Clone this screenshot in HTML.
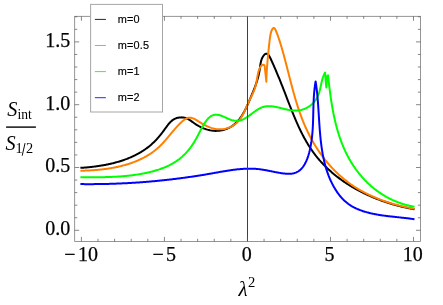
<!DOCTYPE html>
<html><head><meta charset="utf-8"><title>plot</title>
<style>
html,body{margin:0;padding:0;background:#fff;}
svg{display:block;}
text{font-family:"Liberation Serif",serif;}
svg{will-change:transform;}
text.lg{font-family:"Liberation Sans",sans-serif;font-size:10.9px;letter-spacing:0.16px;stroke:#000;stroke-width:0.15px;}
</style></head>
<body>
<svg width="443" height="305" viewBox="0 0 443 305">
<rect x="0" y="0" width="443" height="305" fill="#fff"/>
<g>
<path d="M81.40 167.80L82.18 167.75L82.96 167.70L83.75 167.64L84.53 167.58L85.32 167.52L86.10 167.45L86.89 167.38L87.68 167.31L88.47 167.24L89.27 167.16L90.06 167.08L90.85 167.00L91.65 166.91L92.44 166.82L93.24 166.73L94.04 166.63L94.83 166.53L95.63 166.43L96.43 166.32L97.22 166.21L98.02 166.10L98.82 165.98L99.62 165.86L100.42 165.73L101.21 165.60L102.01 165.47L102.81 165.33L103.61 165.19L104.40 165.05L105.20 164.90L105.99 164.74L106.79 164.58L107.58 164.42L108.38 164.26L109.17 164.09L109.96 163.91L110.75 163.73L111.54 163.55L112.32 163.36L113.11 163.16L113.90 162.96L114.68 162.76L115.46 162.55L116.24 162.34L117.02 162.12L117.80 161.90L118.57 161.67L119.34 161.44L120.11 161.20L120.88 160.96L121.65 160.71L122.41 160.46L123.18 160.20L123.94 159.94L124.69 159.67L125.45 159.39L126.20 159.11L126.95 158.83L127.70 158.53L128.44 158.24L129.18 157.93L129.92 157.63L130.65 157.31L131.38 156.99L132.11 156.66L132.84 156.33L133.56 155.99L134.28 155.65L134.99 155.30L135.70 154.94L136.41 154.58L137.11 154.21L137.81 153.83L138.51 153.45L139.20 153.06L139.88 152.67L140.57 152.27L141.25 151.86L141.92 151.45L142.59 151.02L143.26 150.60L143.92 150.16L144.58 149.72L145.23 149.27L145.87 148.81L146.52 148.35L147.15 147.88L147.79 147.40L148.41 146.92L149.03 146.43L149.65 145.93L150.26 145.43L150.87 144.91L151.47 144.39L152.06 143.86L152.65 143.33L153.24 142.78L153.81 142.23L154.39 141.67L154.95 141.11L155.51 140.53L156.07 139.95L156.61 139.36L157.16 138.77L157.69 138.17L158.23 137.56L158.76 136.94L159.28 136.32L159.80 135.70L160.31 135.07L160.82 134.43L161.33 133.79L161.83 133.15L162.33 132.50L162.82 131.85L163.31 131.19L163.80 130.53L164.29 129.87L164.77 129.21L165.25 128.54L165.73 127.87L166.20 127.21L166.69 126.54L167.17 125.89L167.66 125.24L168.16 124.60L168.66 123.98L169.18 123.37L169.71 122.78L170.25 122.21L170.80 121.66L171.38 121.13L171.97 120.63L172.59 120.16L173.22 119.72L173.88 119.31L174.57 118.94L175.28 118.60L176.02 118.31L176.78 118.05L177.55 117.84L178.35 117.66L179.15 117.53L179.96 117.43L180.78 117.38L181.59 117.37L182.40 117.41L183.20 117.49L183.98 117.61L184.75 117.78L185.50 117.99L186.23 118.25L186.95 118.54L187.65 118.87L188.33 119.23L189.00 119.62L189.67 120.03L190.33 120.46L190.98 120.90L191.63 121.36L192.28 121.83L192.93 122.30L193.58 122.77L194.24 123.24L194.91 123.70L195.59 124.15L196.27 124.60L196.97 125.03L197.67 125.45L198.38 125.85L199.10 126.25L199.82 126.63L200.55 127.00L201.29 127.36L202.04 127.70L202.79 128.03L203.54 128.34L204.30 128.63L205.07 128.91L205.84 129.18L206.61 129.42L207.39 129.65L208.17 129.86L208.96 130.05L209.75 130.23L210.54 130.38L211.33 130.52L212.12 130.63L212.92 130.72L213.71 130.80L214.51 130.85L215.30 130.88L216.10 130.88L216.89 130.87L217.69 130.83L218.48 130.77L219.27 130.69L220.06 130.59L220.84 130.47L221.62 130.32L222.39 130.16L223.16 129.97L223.92 129.77L224.68 129.54L225.43 129.30L226.17 129.04L226.91 128.75L227.64 128.45L228.35 128.13L229.06 127.78L229.76 127.42L230.44 127.05L231.12 126.65L231.78 126.23L232.44 125.80L233.08 125.35L233.70 124.88L234.31 124.40L234.91 123.89L235.50 123.37L236.07 122.84L236.63 122.29L237.17 121.73L237.71 121.15L238.23 120.56L238.74 119.95L239.25 119.33L239.74 118.70L240.21 118.06L240.68 117.41L241.14 116.75L241.59 116.08L242.03 115.39L242.47 114.70L242.89 114.01L243.30 113.30L243.71 112.59L244.11 111.87L244.50 111.14L244.89 110.41L245.26 109.67L245.63 108.93L246.00 108.19L246.36 107.44L246.71 106.69L247.06 105.93L247.40 105.18L247.74 104.42L248.08 103.66L248.41 102.90L248.73 102.14L249.06 101.39L249.38 100.63L249.69 99.88L250.01 99.13L250.32 98.38L250.63 97.63L250.94 96.89L251.24 96.16L251.55 95.42L251.85 94.69L252.15 93.97L252.45 93.24L252.75 92.52L253.04 91.80L253.33 91.08L253.62 90.37L253.91 89.65L254.19 88.93L254.47 88.22L254.74 87.50L255.01 86.78L255.28 86.07L255.54 85.35L255.80 84.63L256.05 83.90L256.30 83.18L256.54 82.45L256.78 81.72L257.01 80.98L257.24 80.24L257.46 79.50L257.68 78.75L257.89 78.00L258.09 77.24L258.29 76.47L258.48 75.70L258.67 74.93L258.85 74.14L259.02 73.35L259.18 72.55L259.34 71.75L259.49 70.93L259.63 70.11L259.76 69.28L259.89 68.44L260.01 67.59L260.12 66.73L260.23 65.86L260.34 64.98L260.47 64.11L260.61 63.23L260.78 62.35L260.98 61.47L261.21 60.60L261.48 59.73L261.80 58.87L262.18 58.03L262.59 57.22L263.04 56.45L263.51 55.75L264.01 55.12L264.52 54.58L265.04 54.14L265.57 53.83L266.08 53.66L266.59 53.63L267.08 53.76L267.56 54.03L268.02 54.42L268.47 54.91L268.91 55.51L269.34 56.18L269.75 56.92L270.16 57.71L270.56 58.53L270.96 59.38L271.35 60.23L271.73 61.08L272.11 61.92L272.48 62.76L272.85 63.58L273.21 64.40L273.57 65.21L273.93 66.02L274.28 66.82L274.62 67.62L274.97 68.40L275.30 69.19L275.64 69.97L275.97 70.74L276.30 71.51L276.62 72.27L276.94 73.03L277.26 73.78L277.58 74.53L277.89 75.28L278.20 76.03L278.50 76.77L278.81 77.50L279.11 78.24L279.41 78.97L279.71 79.70L280.00 80.43L280.29 81.15L280.59 81.88L280.88 82.60L281.16 83.32L281.45 84.04L281.74 84.76L282.02 85.48L282.31 86.20L282.59 86.92L282.87 87.64L283.15 88.36L283.43 89.08L283.71 89.80L283.99 90.52L284.27 91.24L284.55 91.97L284.83 92.69L285.11 93.42L285.40 94.15L285.68 94.88L285.96 95.62L286.24 96.35L286.52 97.09L286.80 97.82L287.09 98.56L287.37 99.30L287.65 100.04L287.94 100.78L288.22 101.52L288.51 102.27L288.80 103.01L289.09 103.75L289.37 104.50L289.66 105.24L289.95 105.99L290.25 106.74L290.54 107.48L290.83 108.23L291.13 108.98L291.43 109.73L291.72 110.48L292.02 111.22L292.33 111.97L292.63 112.72L292.93 113.47L293.24 114.22L293.54 114.97L293.85 115.71L294.16 116.46L294.48 117.21L294.79 117.95L295.11 118.70L295.43 119.45L295.75 120.19L296.07 120.93L296.39 121.68L296.72 122.42L297.05 123.16L297.38 123.90L297.71 124.64L298.05 125.38L298.38 126.12L298.72 126.85L299.07 127.59L299.41 128.32L299.76 129.05L300.11 129.78L300.47 130.51L300.82 131.24L301.18 131.96L301.54 132.69L301.91 133.41L302.28 134.13L302.65 134.85L303.02 135.57L303.40 136.28L303.78 136.99L304.16 137.70L304.55 138.41L304.94 139.11L305.33 139.82L305.73 140.52L306.13 141.21L306.53 141.91L306.94 142.60L307.35 143.29L307.77 143.98L308.18 144.66L308.61 145.35L309.03 146.02L309.46 146.70L309.90 147.37L310.34 148.04L310.78 148.71L311.22 149.37L311.67 150.03L312.13 150.68L312.59 151.34L313.05 151.99L313.52 152.63L313.99 153.27L314.47 153.91L314.95 154.54L315.43 155.18L315.92 155.80L316.41 156.43L316.91 157.04L317.41 157.66L317.92 158.27L318.43 158.88L318.95 159.49L319.46 160.09L319.99 160.68L320.51 161.28L321.04 161.87L321.58 162.45L322.12 163.04L322.66 163.62L323.21 164.19L323.76 164.76L324.31 165.33L324.87 165.90L325.43 166.46L326.00 167.01L326.57 167.57L327.14 168.12L327.72 168.66L328.30 169.21L328.88 169.75L329.47 170.28L330.06 170.81L330.65 171.34L331.25 171.87L331.85 172.39L332.45 172.90L333.06 173.42L333.67 173.93L334.29 174.44L334.90 174.94L335.52 175.44L336.15 175.94L336.77 176.43L337.40 176.92L338.04 177.40L338.67 177.88L339.31 178.36L339.95 178.84L340.60 179.31L341.25 179.78L341.90 180.24L342.55 180.70L343.21 181.16L343.87 181.61L344.53 182.06L345.19 182.51L345.86 182.95L346.53 183.39L347.20 183.83L347.88 184.26L348.55 184.69L349.23 185.12L349.92 185.54L350.60 185.96L351.29 186.37L351.98 186.78L352.67 187.19L353.36 187.60L354.06 188.00L354.76 188.40L355.46 188.79L356.16 189.18L356.87 189.57L357.58 189.95L358.29 190.33L359.00 190.71L359.71 191.08L360.43 191.46L361.15 191.82L361.86 192.19L362.59 192.55L363.31 192.90L364.03 193.26L364.76 193.61L365.49 193.95L366.22 194.30L366.95 194.64L367.69 194.97L368.42 195.30L369.16 195.63L369.90 195.96L370.64 196.28L371.38 196.60L372.12 196.92L372.87 197.23L373.61 197.54L374.36 197.85L375.11 198.15L375.86 198.45L376.61 198.74L377.36 199.04L378.11 199.33L378.87 199.61L379.62 199.90L380.38 200.18L381.14 200.45L381.90 200.72L382.66 200.99L383.42 201.26L384.18 201.52L384.94 201.78L385.71 202.04L386.47 202.29L387.24 202.54L388.00 202.79L388.77 203.03L389.54 203.27L390.30 203.51L391.07 203.74L391.84 203.97L392.61 204.20L393.38 204.42L394.15 204.64L394.92 204.86L395.70 205.07L396.47 205.28L397.24 205.49L398.01 205.69L398.79 205.89L399.56 206.09L400.34 206.29L401.11 206.48L401.88 206.66L402.66 206.85L403.43 207.03L404.21 207.21L404.98 207.38L405.76 207.56L406.53 207.72L407.31 207.89L408.08 208.05L408.86 208.21L409.63 208.37L410.41 208.52L411.18 208.67L411.95 208.82L412.73 208.96L413.50 209.10" fill="none" stroke="#000" stroke-width="2" stroke-linejoin="round" stroke-linecap="square"/>
<path d="M81.40 170.70L82.17 170.69L82.95 170.67L83.73 170.65L84.51 170.63L85.29 170.61L86.07 170.58L86.86 170.55L87.64 170.52L88.43 170.48L89.23 170.45L90.02 170.41L90.81 170.36L91.61 170.32L92.41 170.27L93.20 170.21L94.00 170.16L94.81 170.10L95.61 170.03L96.41 169.97L97.21 169.90L98.02 169.83L98.82 169.75L99.63 169.67L100.44 169.59L101.24 169.50L102.05 169.41L102.86 169.31L103.67 169.22L104.47 169.11L105.28 169.01L106.09 168.90L106.90 168.78L107.71 168.66L108.51 168.54L109.32 168.42L110.13 168.28L110.93 168.15L111.74 168.01L112.54 167.87L113.35 167.72L114.15 167.57L114.95 167.41L115.75 167.25L116.55 167.08L117.35 166.91L118.15 166.73L118.95 166.55L119.74 166.37L120.53 166.18L121.32 165.98L122.11 165.78L122.90 165.58L123.69 165.37L124.47 165.15L125.26 164.93L126.04 164.70L126.81 164.47L127.59 164.24L128.36 163.99L129.13 163.75L129.90 163.49L130.67 163.24L131.43 162.97L132.19 162.70L132.95 162.43L133.70 162.15L134.45 161.86L135.20 161.57L135.95 161.27L136.69 160.96L137.42 160.65L138.16 160.33L138.89 160.01L139.62 159.68L140.34 159.35L141.06 159.01L141.78 158.66L142.49 158.30L143.20 157.94L143.90 157.58L144.60 157.20L145.30 156.82L145.99 156.43L146.68 156.04L147.36 155.64L148.04 155.23L148.71 154.82L149.38 154.40L150.04 153.97L150.70 153.54L151.35 153.09L152.00 152.65L152.64 152.19L153.28 151.73L153.91 151.26L154.54 150.78L155.16 150.29L155.78 149.80L156.39 149.30L156.99 148.79L157.59 148.28L158.18 147.76L158.77 147.23L159.35 146.69L159.92 146.14L160.49 145.59L161.05 145.03L161.61 144.46L162.16 143.89L162.71 143.31L163.25 142.72L163.79 142.13L164.33 141.53L164.86 140.93L165.39 140.32L165.91 139.71L166.44 139.10L166.96 138.48L167.48 137.86L168.00 137.23L168.52 136.61L169.04 135.98L169.56 135.35L170.08 134.72L170.60 134.09L171.13 133.45L171.65 132.82L172.18 132.19L172.71 131.55L173.24 130.92L173.77 130.29L174.31 129.66L174.85 129.04L175.40 128.41L175.95 127.79L176.50 127.17L177.06 126.55L177.63 125.94L178.20 125.33L178.78 124.73L179.37 124.13L179.96 123.54L180.56 122.95L181.17 122.37L181.78 121.80L182.40 121.25L183.03 120.72L183.67 120.21L184.31 119.74L184.96 119.31L185.61 118.91L186.27 118.56L186.93 118.26L187.60 118.01L188.27 117.83L188.95 117.70L189.63 117.65L190.31 117.67L191.00 117.76L191.69 117.90L192.38 118.11L193.08 118.36L193.78 118.66L194.48 119.00L195.19 119.38L195.89 119.78L196.61 120.20L197.32 120.64L198.04 121.10L198.76 121.56L199.48 122.02L200.21 122.47L200.94 122.91L201.67 123.35L202.40 123.78L203.14 124.20L203.88 124.60L204.62 125.00L205.36 125.38L206.11 125.75L206.86 126.10L207.61 126.45L208.36 126.77L209.11 127.08L209.87 127.38L210.63 127.65L211.39 127.91L212.15 128.15L212.92 128.37L213.69 128.57L214.45 128.75L215.23 128.91L216.00 129.05L216.77 129.16L217.55 129.25L218.33 129.31L219.11 129.35L219.89 129.37L220.67 129.36L221.46 129.32L222.24 129.25L223.02 129.16L223.81 129.05L224.58 128.91L225.36 128.75L226.13 128.56L226.90 128.34L227.66 128.11L228.41 127.85L229.15 127.56L229.89 127.26L230.62 126.93L231.33 126.58L232.04 126.20L232.73 125.81L233.42 125.39L234.08 124.95L234.74 124.49L235.37 124.01L236.00 123.51L236.60 122.98L237.19 122.44L237.76 121.88L238.31 121.30L238.83 120.70L239.35 120.08L239.84 119.44L240.32 118.79L240.78 118.13L241.22 117.45L241.65 116.76L242.07 116.06L242.48 115.35L242.87 114.62L243.26 113.89L243.63 113.16L244.00 112.42L244.35 111.67L244.70 110.92L245.05 110.16L245.39 109.41L245.73 108.65L246.06 107.90L246.39 107.14L246.72 106.39L247.04 105.64L247.37 104.90L247.70 104.16L248.03 103.43L248.36 102.71L248.70 101.99L249.04 101.28L249.38 100.58L249.72 99.88L250.06 99.19L250.40 98.50L250.74 97.81L251.08 97.12L251.41 96.43L251.75 95.74L252.07 95.05L252.40 94.35L252.72 93.65L253.03 92.94L253.33 92.23L253.63 91.51L253.92 90.78L254.20 90.04L254.48 89.30L254.74 88.54L254.99 87.76L255.23 86.98L255.46 86.18L255.68 85.36L255.88 84.53L256.08 83.68L256.26 82.82L256.43 81.96L256.60 81.08L256.76 80.20L256.92 79.32L257.07 78.44L257.23 77.56L257.39 76.68L257.55 75.82L257.72 74.96L257.89 74.12L258.08 73.29L258.27 72.49L258.48 71.70L258.70 70.93L258.94 70.19L259.19 69.48L259.46 68.80L259.76 68.15L260.07 67.53L260.41 66.96L260.78 66.42L261.17 65.93L261.60 65.48L262.05 65.12L262.52 64.87L263.02 64.75L263.53 64.79L264.06 65.03L264.60 65.50L266.35 81.70L266.36 80.95L266.37 80.19L266.39 79.43L266.41 78.65L266.43 77.87L266.46 77.09L266.49 76.30L266.53 75.50L266.56 74.70L266.60 73.89L266.65 73.08L266.69 72.26L266.74 71.45L266.80 70.63L266.85 69.80L266.91 68.98L266.96 68.15L267.02 67.32L267.09 66.50L267.15 65.67L267.22 64.84L267.28 64.01L267.35 63.19L267.42 62.36L267.49 61.54L267.56 60.72L267.64 59.91L267.71 59.09L267.78 58.28L267.86 57.48L267.93 56.68L268.01 55.88L268.09 55.09L268.16 54.31L268.24 53.53L268.31 52.76L268.39 52.00L268.46 51.25L268.53 50.50L268.61 49.76L268.68 49.03L268.75 48.31L268.83 47.58L268.90 46.85L268.98 46.11L269.06 45.37L269.14 44.60L269.22 43.82L269.32 43.01L269.41 42.18L269.52 41.32L269.62 40.42L269.74 39.48L269.87 38.51L270.00 37.51L270.16 36.49L270.33 35.47L270.52 34.47L270.73 33.48L270.97 32.53L271.24 31.62L271.54 30.78L271.88 30.00L272.25 29.30L272.66 28.72L273.08 28.28L273.50 28.01L273.92 27.94L274.33 28.10L274.71 28.47L275.08 29.02L275.43 29.69L275.77 30.45L276.10 31.24L276.42 32.03L276.73 32.81L277.03 33.60L277.33 34.38L277.62 35.16L277.91 35.94L278.19 36.72L278.46 37.50L278.73 38.28L278.99 39.05L279.25 39.83L279.50 40.60L279.75 41.38L279.99 42.15L280.24 42.93L280.47 43.70L280.71 44.47L280.94 45.25L281.18 46.02L281.41 46.80L281.63 47.57L281.86 48.35L282.09 49.13L282.31 49.90L282.53 50.68L282.75 51.46L282.97 52.24L283.19 53.02L283.40 53.79L283.62 54.57L283.83 55.35L284.05 56.13L284.26 56.91L284.47 57.69L284.68 58.47L284.88 59.25L285.09 60.03L285.30 60.82L285.50 61.60L285.71 62.38L285.91 63.16L286.12 63.94L286.32 64.72L286.52 65.50L286.72 66.29L286.92 67.07L287.13 67.85L287.33 68.63L287.53 69.41L287.73 70.20L287.93 70.98L288.12 71.76L288.32 72.54L288.52 73.32L288.72 74.10L288.92 74.88L289.12 75.67L289.32 76.45L289.52 77.23L289.72 78.01L289.92 78.79L290.12 79.57L290.32 80.35L290.52 81.13L290.73 81.91L290.93 82.69L291.13 83.46L291.34 84.24L291.54 85.02L291.74 85.80L291.95 86.57L292.16 87.35L292.37 88.13L292.57 88.90L292.78 89.68L292.99 90.45L293.21 91.23L293.42 92.00L293.63 92.78L293.85 93.55L294.07 94.32L294.29 95.09L294.50 95.87L294.73 96.64L294.95 97.41L295.17 98.18L295.40 98.94L295.63 99.71L295.86 100.48L296.09 101.25L296.32 102.01L296.55 102.78L296.79 103.54L297.03 104.30L297.27 105.07L297.51 105.83L297.76 106.59L298.01 107.35L298.26 108.11L298.51 108.87L298.76 109.63L299.02 110.38L299.28 111.14L299.54 111.89L299.80 112.65L300.07 113.40L300.34 114.15L300.61 114.90L300.88 115.65L301.16 116.40L301.44 117.15L301.72 117.90L302.01 118.64L302.30 119.39L302.59 120.13L302.89 120.87L303.19 121.61L303.49 122.35L303.79 123.09L304.10 123.83L304.41 124.57L304.73 125.30L305.05 126.03L305.37 126.77L305.69 127.50L306.02 128.23L306.36 128.96L306.69 129.68L307.03 130.41L307.38 131.13L307.72 131.86L308.07 132.58L308.43 133.30L308.79 134.01L309.15 134.73L309.51 135.45L309.88 136.16L310.26 136.87L310.63 137.58L311.01 138.29L311.40 138.99L311.78 139.70L312.18 140.40L312.57 141.10L312.97 141.80L313.37 142.49L313.78 143.18L314.18 143.88L314.60 144.57L315.01 145.25L315.43 145.94L315.86 146.62L316.28 147.30L316.71 147.98L317.15 148.66L317.59 149.33L318.03 150.00L318.47 150.67L318.92 151.34L319.37 152.00L319.83 152.66L320.29 153.32L320.75 153.97L321.22 154.63L321.69 155.28L322.16 155.93L322.64 156.57L323.12 157.21L323.60 157.85L324.09 158.49L324.58 159.12L325.08 159.75L325.58 160.38L326.08 161.00L326.59 161.62L327.10 162.24L327.61 162.86L328.13 163.47L328.65 164.08L329.17 164.68L329.70 165.28L330.23 165.88L330.76 166.48L331.30 167.07L331.84 167.66L332.39 168.24L332.94 168.82L333.49 169.40L334.04 169.98L334.60 170.55L335.17 171.11L335.73 171.68L336.30 172.24L336.88 172.79L337.45 173.34L338.03 173.89L338.62 174.43L339.20 174.97L339.80 175.51L340.39 176.04L340.99 176.57L341.59 177.10L342.19 177.62L342.80 178.13L343.42 178.64L344.03 179.15L344.65 179.65L345.27 180.15L345.90 180.65L346.53 181.14L347.16 181.62L347.80 182.11L348.44 182.58L349.08 183.06L349.73 183.52L350.38 183.99L351.04 184.45L351.69 184.90L352.36 185.35L353.02 185.80L353.69 186.24L354.36 186.67L355.03 187.11L355.71 187.53L356.39 187.96L357.07 188.38L357.76 188.79L358.45 189.20L359.14 189.61L359.84 190.01L360.53 190.40L361.23 190.80L361.94 191.19L362.64 191.57L363.35 191.95L364.06 192.33L364.78 192.70L365.49 193.07L366.21 193.43L366.93 193.79L367.66 194.15L368.38 194.50L369.11 194.84L369.84 195.19L370.57 195.53L371.31 195.86L372.04 196.19L372.78 196.52L373.52 196.84L374.26 197.16L375.01 197.48L375.75 197.79L376.50 198.10L377.25 198.40L378.00 198.70L378.75 199.00L379.50 199.29L380.26 199.58L381.02 199.86L381.77 200.15L382.53 200.42L383.30 200.70L384.06 200.97L384.82 201.23L385.59 201.50L386.35 201.76L387.12 202.01L387.89 202.26L388.66 202.51L389.43 202.76L390.20 203.00L390.97 203.24L391.74 203.47L392.51 203.70L393.29 203.93L394.06 204.15L394.84 204.37L395.61 204.59L396.39 204.80L397.17 205.02L397.94 205.22L398.72 205.43L399.50 205.63L400.28 205.83L401.05 206.02L401.83 206.21L402.61 206.40L403.39 206.58L404.17 206.76L404.95 206.94L405.73 207.12L406.51 207.29L407.28 207.46L408.06 207.62L408.84 207.79L409.62 207.95L410.39 208.10L411.17 208.26L411.95 208.41L412.72 208.56L413.50 208.70" fill="none" stroke="#ff8000" stroke-width="2" stroke-linejoin="round" stroke-linecap="square"/>
<path d="M81.40 177.20L82.20 177.21L83.01 177.21L83.81 177.22L84.61 177.22L85.41 177.23L86.22 177.23L87.02 177.23L87.82 177.24L88.63 177.24L89.43 177.24L90.23 177.25L91.04 177.25L91.84 177.25L92.64 177.25L93.45 177.25L94.25 177.25L95.05 177.24L95.85 177.24L96.66 177.24L97.46 177.23L98.26 177.22L99.07 177.22L99.87 177.21L100.67 177.20L101.48 177.19L102.28 177.17L103.08 177.16L103.88 177.14L104.69 177.13L105.49 177.11L106.29 177.09L107.09 177.07L107.89 177.04L108.70 177.02L109.50 176.99L110.30 176.96L111.10 176.93L111.90 176.90L112.70 176.86L113.51 176.83L114.31 176.79L115.11 176.75L115.91 176.70L116.71 176.66L117.51 176.61L118.31 176.56L119.11 176.51L119.91 176.45L120.71 176.39L121.51 176.33L122.31 176.27L123.11 176.20L123.91 176.14L124.71 176.06L125.51 175.99L126.30 175.91L127.10 175.83L127.90 175.75L128.70 175.67L129.50 175.58L130.29 175.48L131.09 175.39L131.89 175.29L132.68 175.19L133.48 175.08L134.28 174.98L135.07 174.86L135.87 174.75L136.66 174.63L137.46 174.51L138.25 174.38L139.05 174.25L139.84 174.12L140.64 173.98L141.43 173.84L142.22 173.69L143.02 173.54L143.81 173.39L144.60 173.23L145.39 173.07L146.18 172.90L146.98 172.73L147.77 172.56L148.56 172.38L149.34 172.20L150.13 172.01L150.92 171.81L151.70 171.62L152.48 171.41L153.26 171.20L154.04 170.99L154.82 170.77L155.60 170.54L156.37 170.31L157.14 170.07L157.91 169.83L158.67 169.58L159.44 169.33L160.20 169.06L160.95 168.80L161.71 168.52L162.46 168.24L163.20 167.95L163.95 167.66L164.69 167.35L165.42 167.04L166.15 166.73L166.88 166.40L167.60 166.07L168.32 165.73L169.04 165.39L169.74 165.03L170.45 164.67L171.15 164.30L171.84 163.92L172.53 163.53L173.22 163.13L173.90 162.73L174.57 162.32L175.24 161.90L175.90 161.47L176.55 161.03L177.20 160.58L177.84 160.12L178.48 159.65L179.11 159.18L179.73 158.69L180.35 158.19L180.96 157.69L181.56 157.18L182.16 156.65L182.75 156.12L183.33 155.58L183.90 155.03L184.47 154.48L185.03 153.91L185.59 153.34L186.14 152.75L186.68 152.17L187.21 151.57L187.74 150.96L188.26 150.35L188.78 149.73L189.28 149.10L189.78 148.47L190.28 147.83L190.76 147.18L191.24 146.52L191.71 145.86L192.18 145.19L192.64 144.52L193.09 143.84L193.53 143.15L193.97 142.46L194.40 141.76L194.82 141.06L195.23 140.35L195.64 139.63L196.05 138.91L196.44 138.19L196.84 137.46L197.23 136.73L197.61 136.00L198.00 135.26L198.38 134.52L198.77 133.79L199.15 133.05L199.53 132.30L199.92 131.56L200.30 130.82L200.69 130.08L201.09 129.34L201.48 128.61L201.88 127.87L202.29 127.14L202.70 126.41L203.13 125.69L203.55 124.96L203.99 124.25L204.43 123.53L204.89 122.83L205.36 122.13L205.83 121.43L206.32 120.76L206.82 120.10L207.33 119.46L207.86 118.84L208.40 118.26L208.96 117.72L209.53 117.21L210.12 116.74L210.72 116.33L211.34 115.96L211.97 115.64L212.63 115.37L213.29 115.15L213.97 114.98L214.66 114.85L215.36 114.77L216.08 114.74L216.80 114.75L217.53 114.81L218.28 114.91L219.03 115.05L219.78 115.24L220.55 115.47L221.31 115.74L222.09 116.03L222.87 116.35L223.65 116.69L224.44 117.04L225.22 117.40L226.01 117.77L226.81 118.13L227.60 118.49L228.39 118.83L229.19 119.16L229.99 119.47L230.78 119.75L231.57 120.00L232.36 120.23L233.15 120.42L233.94 120.57L234.72 120.70L235.50 120.78L236.27 120.83L237.04 120.83L237.80 120.80L238.56 120.71L239.30 120.59L240.04 120.42L240.78 120.22L241.51 119.98L242.23 119.71L242.95 119.40L243.66 119.06L244.37 118.70L245.07 118.31L245.78 117.90L246.47 117.47L247.17 117.03L247.86 116.56L248.55 116.08L249.24 115.59L249.93 115.09L250.61 114.59L251.30 114.08L251.99 113.57L252.67 113.06L253.36 112.55L254.05 112.04L254.73 111.54L255.42 111.05L256.11 110.58L256.81 110.11L257.51 109.66L258.20 109.23L258.91 108.83L259.61 108.44L260.33 108.08L261.04 107.74L261.76 107.44L262.49 107.16L263.22 106.92L263.96 106.72L264.70 106.55L265.45 106.41L266.20 106.30L266.96 106.23L267.72 106.18L268.49 106.15L269.26 106.15L270.03 106.18L270.81 106.22L271.59 106.29L272.38 106.38L273.17 106.48L273.96 106.60L274.76 106.73L275.55 106.88L276.35 107.04L277.16 107.21L277.96 107.39L278.77 107.58L279.57 107.77L280.38 107.96L281.19 108.16L282.00 108.37L282.81 108.57L283.62 108.77L284.43 108.96L285.24 109.16L286.05 109.34L286.86 109.52L287.66 109.70L288.47 109.86L289.28 110.01L290.08 110.14L290.89 110.27L291.69 110.37L292.49 110.46L293.28 110.53L294.08 110.58L294.87 110.61L295.65 110.61L296.44 110.59L297.22 110.55L298.00 110.48L298.77 110.38L299.54 110.26L300.30 110.11L301.05 109.94L301.80 109.75L302.54 109.53L303.28 109.29L304.00 109.03L304.72 108.75L305.43 108.44L306.12 108.11L306.81 107.76L307.49 107.39L308.15 106.99L308.80 106.58L309.44 106.14L310.07 105.69L310.68 105.21L311.28 104.72L311.86 104.21L312.43 103.68L312.98 103.13L313.51 102.56L314.03 101.97L314.53 101.37L315.02 100.75L315.48 100.11L315.93 99.45L316.35 98.78L316.76 98.09L317.15 97.39L317.51 96.67L317.85 95.94L318.17 95.19L318.47 94.43L318.75 93.66L319.02 92.87L319.27 92.08L319.50 91.28L319.72 90.46L319.93 89.65L320.13 88.83L320.32 88.00L320.51 87.17L320.69 86.34L320.87 85.51L321.05 84.69L321.23 83.86L321.41 83.04L321.60 82.22L321.79 81.41L321.99 80.61L322.19 79.81L322.41 79.03L322.64 78.25L322.88 77.49L323.14 76.74L323.42 76.01L323.71 75.29L324.02 74.59L324.36 73.91L324.72 73.24L325.10 72.60L326.30 87.50L327.30 76.00L328.10 75.40L328.18 76.18L328.26 76.96L328.34 77.74L328.43 78.52L328.51 79.30L328.59 80.08L328.68 80.87L328.77 81.66L328.85 82.45L328.94 83.23L329.03 84.03L329.12 84.82L329.21 85.61L329.30 86.40L329.40 87.20L329.49 87.99L329.59 88.79L329.69 89.59L329.79 90.38L329.89 91.18L329.99 91.98L330.10 92.78L330.20 93.58L330.31 94.39L330.42 95.19L330.53 95.99L330.64 96.79L330.76 97.60L330.87 98.40L330.99 99.20L331.11 100.01L331.23 100.81L331.36 101.62L331.48 102.42L331.61 103.23L331.74 104.03L331.87 104.84L332.01 105.64L332.14 106.45L332.28 107.25L332.43 108.06L332.57 108.86L332.72 109.67L332.87 110.47L333.02 111.28L333.17 112.08L333.33 112.88L333.49 113.69L333.65 114.49L333.82 115.29L333.98 116.09L334.15 116.89L334.33 117.69L334.50 118.49L334.68 119.29L334.87 120.09L335.05 120.88L335.24 121.68L335.43 122.47L335.63 123.27L335.82 124.06L336.02 124.85L336.23 125.64L336.44 126.43L336.65 127.22L336.86 128.01L337.08 128.79L337.30 129.58L337.53 130.36L337.76 131.14L337.99 131.92L338.22 132.70L338.46 133.48L338.71 134.26L338.95 135.03L339.20 135.80L339.46 136.58L339.72 137.34L339.98 138.11L340.25 138.88L340.52 139.64L340.79 140.40L341.07 141.16L341.36 141.92L341.64 142.68L341.94 143.43L342.23 144.18L342.53 144.93L342.84 145.68L343.14 146.42L343.46 147.17L343.78 147.91L344.10 148.65L344.43 149.38L344.76 150.11L345.09 150.85L345.44 151.57L345.78 152.30L346.13 153.02L346.49 153.74L346.85 154.46L347.21 155.17L347.58 155.89L347.96 156.59L348.34 157.30L348.72 158.00L349.11 158.70L349.51 159.40L349.91 160.10L350.31 160.79L350.72 161.47L351.14 162.16L351.55 162.84L351.98 163.52L352.41 164.19L352.84 164.86L353.28 165.53L353.72 166.20L354.17 166.86L354.62 167.51L355.07 168.17L355.54 168.82L356.00 169.46L356.47 170.11L356.95 170.75L357.43 171.38L357.91 172.01L358.40 172.64L358.90 173.26L359.39 173.88L359.90 174.50L360.41 175.11L360.92 175.71L361.44 176.32L361.96 176.92L362.48 177.51L363.01 178.10L363.55 178.69L364.09 179.27L364.63 179.84L365.18 180.42L365.74 180.98L366.30 181.55L366.86 182.11L367.43 182.66L368.00 183.21L368.57 183.76L369.15 184.29L369.74 184.83L370.33 185.36L370.92 185.89L371.52 186.41L372.12 186.92L372.73 187.43L373.34 187.94L373.96 188.44L374.58 188.93L375.20 189.42L375.83 189.90L376.47 190.38L377.10 190.86L377.75 191.33L378.39 191.79L379.04 192.25L379.70 192.70L380.36 193.14L381.02 193.58L381.69 194.02L382.36 194.45L383.04 194.87L383.72 195.29L384.41 195.70L385.10 196.11L385.79 196.51L386.49 196.90L387.19 197.29L387.90 197.67L388.61 198.05L389.32 198.42L390.04 198.78L390.76 199.14L391.49 199.49L392.22 199.84L392.96 200.17L393.70 200.51L394.44 200.83L395.19 201.15L395.94 201.46L396.70 201.77L397.46 202.07L398.22 202.36L398.99 202.65L399.76 202.93L400.54 203.20L401.32 203.47L402.10 203.72L402.89 203.98L403.68 204.22L404.48 204.46L405.28 204.69L406.08 204.91L406.89 205.13L407.71 205.34L408.52 205.54L409.34 205.74L410.17 205.92L410.99 206.10L411.83 206.28L412.66 206.44L413.50 206.60" fill="none" stroke="#00ff00" stroke-width="2" stroke-linejoin="round" stroke-linecap="square"/>
<path d="M81.40 184.10L82.21 184.11L83.01 184.12L83.82 184.12L84.63 184.13L85.44 184.13L86.24 184.14L87.05 184.14L87.86 184.14L88.66 184.14L89.47 184.14L90.27 184.14L91.08 184.14L91.89 184.14L92.69 184.13L93.50 184.13L94.30 184.12L95.11 184.12L95.91 184.11L96.72 184.10L97.52 184.09L98.33 184.08L99.13 184.07L99.94 184.06L100.74 184.05L101.55 184.04L102.35 184.02L103.15 184.01L103.96 183.99L104.76 183.97L105.57 183.96L106.37 183.94L107.17 183.92L107.98 183.90L108.78 183.88L109.58 183.85L110.39 183.83L111.19 183.81L111.99 183.78L112.79 183.76L113.60 183.73L114.40 183.70L115.20 183.67L116.01 183.64L116.81 183.61L117.61 183.58L118.41 183.55L119.21 183.52L120.02 183.48L120.82 183.45L121.62 183.41L122.42 183.37L123.22 183.34L124.02 183.30L124.83 183.26L125.63 183.22L126.43 183.18L127.23 183.13L128.03 183.09L128.83 183.05L129.63 183.00L130.43 182.95L131.23 182.91L132.03 182.86L132.83 182.81L133.63 182.76L134.44 182.71L135.24 182.66L136.04 182.61L136.84 182.55L137.64 182.50L138.44 182.44L139.24 182.39L140.04 182.33L140.84 182.27L141.64 182.21L142.43 182.15L143.23 182.09L144.03 182.03L144.83 181.97L145.63 181.91L146.43 181.84L147.23 181.78L148.03 181.71L148.83 181.64L149.63 181.58L150.43 181.51L151.23 181.44L152.02 181.37L152.82 181.29L153.62 181.22L154.42 181.15L155.22 181.07L156.02 181.00L156.82 180.92L157.62 180.84L158.41 180.77L159.21 180.69L160.01 180.61L160.81 180.53L161.61 180.44L162.40 180.36L163.20 180.28L164.00 180.19L164.80 180.11L165.60 180.02L166.39 179.93L167.19 179.85L167.99 179.76L168.79 179.67L169.59 179.57L170.38 179.48L171.18 179.39L171.98 179.30L172.78 179.20L173.57 179.11L174.37 179.01L175.17 178.91L175.97 178.81L176.76 178.71L177.56 178.61L178.36 178.51L179.16 178.41L179.95 178.31L180.75 178.20L181.55 178.10L182.34 177.99L183.14 177.88L183.94 177.78L184.74 177.67L185.53 177.56L186.33 177.45L187.13 177.33L187.92 177.22L188.72 177.11L189.52 176.99L190.32 176.88L191.11 176.76L191.91 176.65L192.71 176.53L193.50 176.41L194.30 176.29L195.10 176.17L195.89 176.05L196.69 175.92L197.49 175.80L198.28 175.67L199.08 175.55L199.88 175.42L200.68 175.29L201.47 175.17L202.27 175.04L203.07 174.91L203.86 174.77L204.66 174.64L205.46 174.51L206.25 174.37L207.05 174.24L207.85 174.10L208.64 173.97L209.44 173.83L210.24 173.69L211.03 173.55L211.83 173.41L212.63 173.27L213.42 173.13L214.22 172.98L215.02 172.84L215.81 172.70L216.61 172.56L217.41 172.41L218.20 172.27L219.00 172.13L219.80 171.99L220.59 171.85L221.39 171.71L222.19 171.57L222.98 171.43L223.78 171.30L224.58 171.16L225.37 171.03L226.17 170.90L226.96 170.77L227.76 170.65L228.56 170.52L229.35 170.40L230.15 170.28L230.94 170.17L231.74 170.05L232.53 169.95L233.33 169.84L234.12 169.74L234.92 169.64L235.71 169.54L236.50 169.45L237.30 169.36L238.09 169.28L238.89 169.20L239.68 169.13L240.47 169.06L241.27 168.99L242.06 168.93L242.85 168.88L243.64 168.83L244.44 168.79L245.23 168.75L246.02 168.72L246.81 168.69L247.60 168.67L248.39 168.66L249.18 168.65L249.97 168.65L250.77 168.65L251.56 168.67L252.34 168.69L253.13 168.71L253.92 168.75L254.71 168.79L255.50 168.84L256.29 168.90L257.08 168.96L257.86 169.03L258.65 169.12L259.44 169.21L260.22 169.30L261.01 169.41L261.80 169.53L262.58 169.65L263.37 169.78L264.16 169.91L264.95 170.05L265.74 170.19L266.53 170.34L267.33 170.50L268.12 170.65L268.92 170.81L269.72 170.97L270.53 171.14L271.33 171.30L272.14 171.47L272.96 171.63L273.77 171.79L274.60 171.96L275.42 172.12L276.25 172.28L277.09 172.43L277.93 172.59L278.78 172.74L279.63 172.88L280.48 173.02L281.35 173.16L282.21 173.28L283.08 173.40L283.95 173.50L284.81 173.59L285.67 173.67L286.53 173.73L287.38 173.77L288.22 173.80L289.06 173.80L289.88 173.78L290.69 173.73L291.48 173.66L292.26 173.55L293.02 173.42L293.76 173.26L294.48 173.06L295.18 172.83L295.86 172.57L296.52 172.28L297.16 171.96L297.78 171.61L298.39 171.24L298.97 170.83L299.54 170.40L300.09 169.95L300.62 169.47L301.14 168.97L301.64 168.44L302.12 167.90L302.59 167.33L303.04 166.74L303.48 166.13L303.90 165.50L304.31 164.86L304.70 164.20L305.08 163.52L305.45 162.83L305.80 162.12L306.14 161.40L306.47 160.67L306.78 159.92L307.08 159.17L307.38 158.40L307.66 157.63L307.93 156.85L308.19 156.06L308.44 155.26L308.67 154.46L308.90 153.65L309.13 152.84L309.34 152.02L309.54 151.20L309.74 150.38L309.92 149.56L310.10 148.74L310.28 147.92L310.44 147.11L310.60 146.29L310.76 145.47L310.90 144.66L311.04 143.84L311.18 143.03L311.30 142.22L311.43 141.41L311.54 140.60L311.65 139.79L311.76 138.98L311.86 138.17L311.96 137.36L312.05 136.56L312.13 135.75L312.21 134.95L312.29 134.14L312.36 133.34L312.43 132.54L312.50 131.73L312.56 130.93L312.61 130.13L312.67 129.33L312.72 128.53L312.77 127.73L312.81 126.93L312.85 126.13L312.89 125.33L312.93 124.54L312.96 123.74L313.00 122.94L313.03 122.14L313.05 121.35L313.08 120.55L313.11 119.76L313.13 118.96L313.15 118.16L313.17 117.37L313.19 116.57L313.21 115.78L313.23 114.98L313.25 114.19L313.27 113.39L313.29 112.60L313.31 111.81L313.32 111.01L313.34 110.22L313.36 109.42L313.38 108.63L313.40 107.83L313.43 107.04L313.45 106.24L313.47 105.45L313.50 104.65L313.53 103.86L313.56 103.06L313.59 102.26L313.62 101.47L313.66 100.67L313.69 99.87L313.73 99.08L313.78 98.28L313.82 97.48L313.87 96.68L313.93 95.88L313.98 95.08L314.04 94.28L314.10 93.48L314.17 92.68L314.24 91.88L314.32 91.08L314.40 90.28L314.48 89.47L314.57 88.67L314.66 87.86L314.76 87.06L314.86 86.25L314.97 85.45L315.09 84.64L315.21 83.83L315.33 83.02L315.46 82.21L315.60 81.40L315.72 82.17L315.84 82.93L315.96 83.70L316.07 84.48L316.18 85.25L316.29 86.02L316.39 86.80L316.49 87.58L316.59 88.36L316.68 89.14L316.78 89.93L316.87 90.71L316.95 91.50L317.04 92.29L317.12 93.08L317.20 93.87L317.28 94.66L317.36 95.46L317.43 96.25L317.50 97.05L317.57 97.85L317.64 98.65L317.71 99.45L317.77 100.25L317.84 101.05L317.90 101.86L317.96 102.66L318.02 103.47L318.08 104.27L318.14 105.08L318.19 105.89L318.25 106.70L318.30 107.51L318.36 108.32L318.41 109.13L318.46 109.95L318.51 110.76L318.57 111.57L318.62 112.39L318.67 113.20L318.72 114.02L318.77 114.84L318.82 115.65L318.87 116.47L318.92 117.29L318.97 118.10L319.02 118.92L319.07 119.74L319.13 120.56L319.18 121.38L319.23 122.20L319.29 123.01L319.34 123.83L319.40 124.65L319.45 125.47L319.51 126.29L319.57 127.11L319.63 127.93L319.69 128.75L319.75 129.56L319.82 130.38L319.88 131.20L319.95 132.02L320.02 132.83L320.09 133.65L320.16 134.47L320.23 135.28L320.31 136.10L320.39 136.91L320.47 137.73L320.55 138.54L320.64 139.35L320.72 140.17L320.81 140.98L320.91 141.79L321.00 142.60L321.10 143.41L321.20 144.21L321.31 145.02L321.41 145.83L321.52 146.63L321.63 147.44L321.75 148.24L321.87 149.04L321.99 149.84L322.12 150.64L322.25 151.44L322.38 152.24L322.52 153.03L322.66 153.83L322.81 154.62L322.96 155.41L323.11 156.20L323.27 156.99L323.43 157.78L323.59 158.57L323.76 159.35L323.94 160.13L324.12 160.91L324.30 161.69L324.49 162.47L324.68 163.24L324.88 164.02L325.09 164.79L325.29 165.56L325.51 166.33L325.73 167.09L325.95 167.86L326.18 168.62L326.41 169.38L326.65 170.14L326.90 170.89L327.15 171.65L327.41 172.40L327.67 173.15L327.94 173.89L328.22 174.64L328.50 175.38L328.78 176.12L329.08 176.85L329.38 177.59L329.69 178.32L330.00 179.05L330.32 179.78L330.64 180.50L330.98 181.22L331.32 181.94L331.66 182.65L332.02 183.37L332.38 184.08L332.75 184.78L333.12 185.49L333.51 186.19L333.90 186.89L334.29 187.58L334.70 188.27L335.11 188.96L335.53 189.64L335.96 190.32L336.40 190.99L336.84 191.66L337.29 192.32L337.75 192.97L338.22 193.62L338.70 194.26L339.19 194.90L339.68 195.52L340.18 196.14L340.69 196.75L341.21 197.35L341.74 197.95L342.28 198.53L342.83 199.11L343.38 199.68L343.95 200.23L344.52 200.78L345.10 201.31L345.70 201.84L346.30 202.35L346.91 202.85L347.53 203.34L348.16 203.82L348.81 204.28L349.46 204.73L350.12 205.17L350.79 205.60L351.46 206.01L352.15 206.41L352.85 206.80L353.55 207.18L354.26 207.55L354.98 207.91L355.70 208.26L356.43 208.59L357.17 208.92L357.91 209.23L358.66 209.54L359.41 209.84L360.16 210.13L360.92 210.41L361.69 210.68L362.46 210.94L363.23 211.20L364.00 211.44L364.78 211.68L365.56 211.91L366.34 212.14L367.12 212.36L367.91 212.57L368.70 212.77L369.49 212.97L370.28 213.16L371.08 213.35L371.87 213.53L372.67 213.70L373.47 213.87L374.27 214.03L375.07 214.19L375.88 214.35L376.68 214.49L377.49 214.64L378.29 214.77L379.10 214.91L379.91 215.04L380.72 215.17L381.53 215.29L382.34 215.41L383.15 215.52L383.96 215.63L384.78 215.74L385.59 215.85L386.40 215.95L387.22 216.05L388.03 216.15L388.84 216.25L389.65 216.34L390.47 216.43L391.28 216.52L392.09 216.61L392.90 216.70L393.71 216.79L394.52 216.87L395.33 216.96L396.14 217.04L396.94 217.13L397.75 217.21L398.55 217.29L399.36 217.38L400.16 217.46L400.96 217.55L401.76 217.63L402.56 217.72L403.35 217.80L404.15 217.89L404.94 217.98L405.73 218.07L406.52 218.16L407.30 218.26L408.09 218.35L408.87 218.45L409.65 218.55L410.42 218.66L411.19 218.76L411.97 218.87L412.73 218.98L413.50 219.10" fill="none" stroke="#0000ff" stroke-width="2" stroke-linejoin="round" stroke-linecap="square"/>
</g>
<path d="M247.5 16.3V241.4" stroke="#404040" stroke-width="1" fill="none"/>
<rect x="74.7" y="16.3" width="345.8" height="225.1" fill="none" stroke="#737373" stroke-width="0.75"/>
<path d="M81.40 241.40V236.90 M81.40 16.30V20.80 M98.00 241.40V238.80 M98.00 16.30V18.90 M114.61 241.40V238.80 M114.61 16.30V18.90 M131.21 241.40V238.80 M131.21 16.30V18.90 M147.82 241.40V238.80 M147.82 16.30V18.90 M164.42 241.40V236.90 M164.42 16.30V20.80 M181.03 241.40V238.80 M181.03 16.30V18.90 M197.63 241.40V238.80 M197.63 16.30V18.90 M214.24 241.40V238.80 M214.24 16.30V18.90 M230.84 241.40V238.80 M230.84 16.30V18.90 M247.45 241.40V236.90 M247.45 16.30V20.80 M264.06 241.40V238.80 M264.06 16.30V18.90 M280.66 241.40V238.80 M280.66 16.30V18.90 M297.26 241.40V238.80 M297.26 16.30V18.90 M313.87 241.40V238.80 M313.87 16.30V18.90 M330.48 241.40V236.90 M330.48 16.30V20.80 M347.08 241.40V238.80 M347.08 16.30V18.90 M363.69 241.40V238.80 M363.69 16.30V18.90 M380.29 241.40V238.80 M380.29 16.30V18.90 M396.89 241.40V238.80 M396.89 16.30V18.90 M413.50 241.40V236.90 M413.50 16.30V20.80 M74.70 230.30H79.20 M420.50 230.30H416.00 M74.70 217.74H77.30 M420.50 217.74H417.90 M74.70 205.18H77.30 M420.50 205.18H417.90 M74.70 192.62H77.30 M420.50 192.62H417.90 M74.70 180.06H77.30 M420.50 180.06H417.90 M74.70 167.50H79.20 M420.50 167.50H416.00 M74.70 154.94H77.30 M420.50 154.94H417.90 M74.70 142.38H77.30 M420.50 142.38H417.90 M74.70 129.82H77.30 M420.50 129.82H417.90 M74.70 117.26H77.30 M420.50 117.26H417.90 M74.70 104.70H79.20 M420.50 104.70H416.00 M74.70 92.14H77.30 M420.50 92.14H417.90 M74.70 79.58H77.30 M420.50 79.58H417.90 M74.70 67.02H77.30 M420.50 67.02H417.90 M74.70 54.46H77.30 M420.50 54.46H417.90 M74.70 41.90H79.20 M420.50 41.90H416.00 M74.70 29.34H77.30 M420.50 29.34H417.90 M74.70 16.78H77.30 M420.50 16.78H417.90 " stroke="#555" stroke-width="0.7" fill="none"/>
<g font-size="20" fill="#000" stroke="#000" stroke-width="0.25">
<text x="81.15" y="261" text-anchor="middle">−<tspan dx="2.3">10</tspan></text><text x="164.2" y="261" text-anchor="middle">−<tspan dx="2.3">5</tspan></text><text x="246.70" y="261" text-anchor="middle">0</text><text x="329.50" y="261" text-anchor="middle">5</text><text x="412.70" y="261" text-anchor="middle">10</text>
<text x="70.2" y="235.20" text-anchor="end">0.0</text><text x="70.2" y="172.40" text-anchor="end">0.5</text><text x="70.2" y="109.60" text-anchor="end">1.0</text><text x="70.2" y="46.80" text-anchor="end">1.5</text>
</g>
<g fill="#000">
<text transform="translate(7.3 116.1) scale(0.93 1)" font-size="21.8" font-style="italic">S</text>
<text transform="translate(17.4 118.8) scale(0.95 1)" font-size="14.3">int</text>
<path d="M6.1 127.1H35.9" stroke="#000" stroke-width="1.4"/>
<text transform="translate(5.4 150.3) scale(0.93 1)" font-size="21.8" font-style="italic">S</text>
<text x="15.6" y="153.1" font-size="14.3">1</text>
<path d="M25.05 143.1L22.2 155.7" stroke="#000" stroke-width="0.95" fill="none"/>
<text x="26.0" y="153.1" font-size="14.3">2</text>
<text x="238.6" y="295.6" font-size="21" font-style="italic">λ</text>
<text x="248" y="287.4" font-size="14.6">2</text>
</g>
<rect x="90.6" y="4.4" width="71.9" height="107.6" fill="#fff" stroke="#a6a6a6" stroke-width="1"/><path d="M94.9 19.40H105.9" stroke="#000" stroke-width="1" stroke-opacity="0.85" fill="none"/><text x="117.8" y="22.90" class="lg">m=0</text><path d="M94.9 45.50H105.9" stroke="#ff8000" stroke-width="1" stroke-opacity="0.85" fill="none"/><text x="117.8" y="49.00" class="lg">m=0.5</text><path d="M94.9 71.60H105.9" stroke="#00ff00" stroke-width="1" stroke-opacity="0.85" fill="none"/><text x="117.8" y="75.10" class="lg">m=1</text><path d="M94.9 97.70H105.9" stroke="#0000ff" stroke-width="1" stroke-opacity="0.85" fill="none"/><text x="117.8" y="101.20" class="lg">m=2</text>
</svg>
</body></html>
